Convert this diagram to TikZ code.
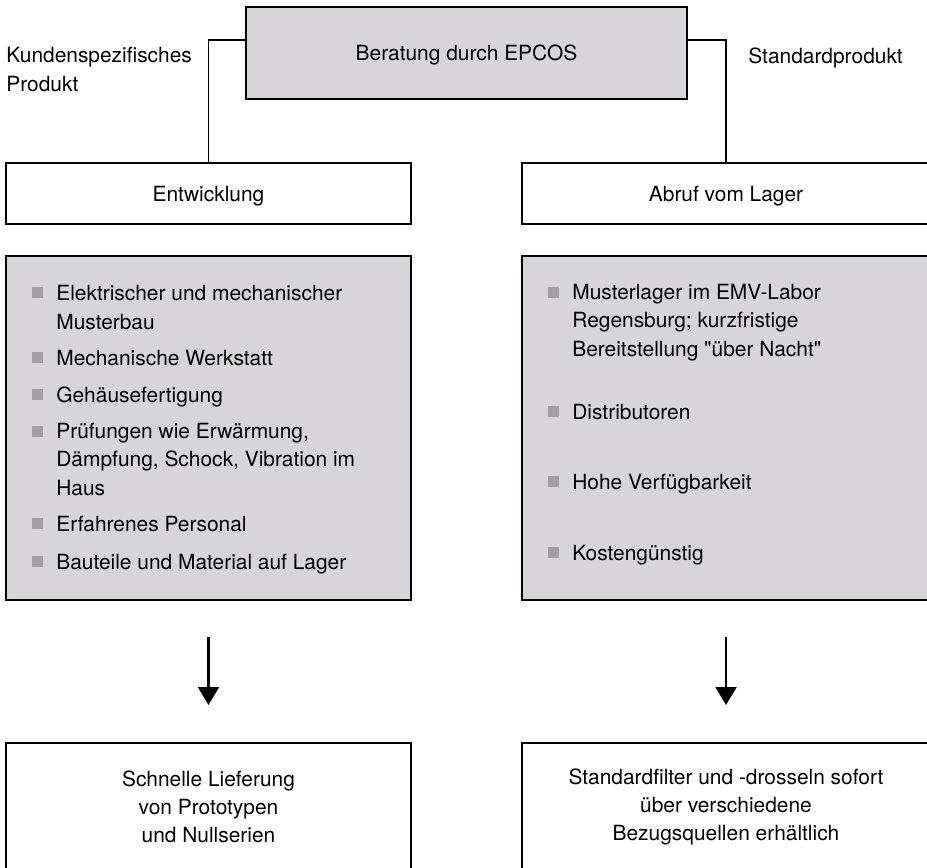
\documentclass[tikz,border=0pt]{standalone}
\usepackage{fontspec}
\setmainfont{TeX Gyre Heros}
\usepackage{tikz}
\usetikzlibrary{arrows.meta}
\definecolor{boxgrey}{RGB}{215, 213, 216}
\definecolor{dotgrey}{RGB}{160, 160, 160}

\begin{document}
\begin{tikzpicture}[
  txt/.style={font=\fontsize{11.9}{16}\selectfont, inner sep=0pt},
  frame/.style={txt, draw, line width=1.15pt, align=center},
  listframe/.style={draw, line width=1.15pt, fill=boxgrey, inner sep=0pt},
  entry/.style={txt, anchor=base west, align=left},
  bullet/.style={fill=dotgrey, inner sep=0pt, minimum size=0.21cm, anchor=south east},
  link/.style={line width=1pt},
  flow/.style={line width=1.15pt, -{Triangle[width=0.42cm, length=0.36cm]}, shorten <=0.72cm, shorten >=0.74cm}
]
  \useasboundingbox (0, 0) rectangle (18.54, -17.34);
  \clip (0, 0) rectangle (18.54, -17.34);

  % Consulting (multi-line entries are placed by the baseline of their last line)
  \node[frame, fill=boxgrey, text depth=0pt, minimum width=8.82cm, minimum height=1.84cm] (cons) at (9.33, -1.06) {Beratung durch EPCOS};
  \node[entry] (custom) at (0.12, -1.82) {Kundenspezifisches\\Produkt};
  \node[entry] (standard) at (14.96, -1.26) {Standardprodukt};

  % Two paths
  \node[frame, text depth=0pt, minimum width=8.10cm, minimum height=1.22cm] (dev) at (4.17, -3.87) {Entwicklung};
  \node[frame, text depth=0pt, minimum width=8.16cm, minimum height=1.22cm] (stock) at (14.52, -3.87) {Abruf vom Lager};

  \draw[link] ([yshift=0.26cm]cons.west) -| (dev.north);
  \draw[link] ([yshift=0.26cm]cons.east) -| (stock.north);

  % Lists
  \node[listframe, minimum width=8.10cm, minimum height=6.88cm] (devlist) at (4.17, -8.56) {};
  \node[listframe, minimum width=8.16cm, minimum height=6.88cm] (stocklist) at (14.52, -8.56) {};

  \node[entry] (d1) at (1.12, -6.58) {Elektrischer und mechanischer\\Musterbau};
  \node[entry] (d2) at (1.12, -7.30) {Mechanische Werkstatt};
  \node[entry] (d3) at (1.12, -8.04) {Gehäusefertigung};
  \node[entry] (d4) at (1.12, -9.90) {Prüfungen wie Erwärmung,\\Dämpfung, Schock, Vibration im\\Haus};
  \node[entry] (d5) at (1.12, -10.62) {Erfahrenes Personal};
  \node[entry] (d6) at (1.12, -11.38) {Bauteile und Material auf Lager};

  \node[entry] (s1) at (11.44, -7.12) {Musterlager im EMV-Labor\\Regensburg; kurzfristige\\Bereitstellung \textquotedbl über Nacht\textquotedbl};
  \node[entry] (s2) at (11.44, -8.38) {Distributoren};
  \node[entry] (s3) at (11.44, -9.78) {Hohe Verfügbarkeit};
  \node[entry] (s4) at (11.44, -11.20) {Kostengünstig};

  \node[bullet] (d1m) at (0.86, -5.96) {};
  \node[bullet] (d2m) at (0.86, -7.26) {};
  \node[bullet] (d3m) at (0.86, -8.00) {};
  \node[bullet] (d4m) at (0.86, -8.74) {};
  \node[bullet] (d5m) at (0.86, -10.58) {};
  \node[bullet] (d6m) at (0.86, -11.34) {};
  \node[bullet] (s1m) at (11.18, -5.96) {};
  \node[bullet] (s2m) at (11.18, -8.34) {};
  \node[bullet] (s3m) at (11.18, -9.74) {};
  \node[bullet] (s4m) at (11.18, -11.16) {};

  % Results
  \node[frame, minimum width=8.10cm, minimum height=2.56cm] (devout) at (4.17, -16.14) {Schnelle Lieferung\\von Prototypen\\und Nullserien};
  \node[frame, minimum width=8.16cm, minimum height=2.56cm] (stockout) at (14.52, -16.14) {Standardfilter und -drosseln sofort\\über verschiedene\\Bezugsquellen erhältlich};

  \draw[flow] (devlist.south) -- (devout.north);
  \draw[flow] (stocklist.south) -- (stockout.north);
\end{tikzpicture}
\end{document}
